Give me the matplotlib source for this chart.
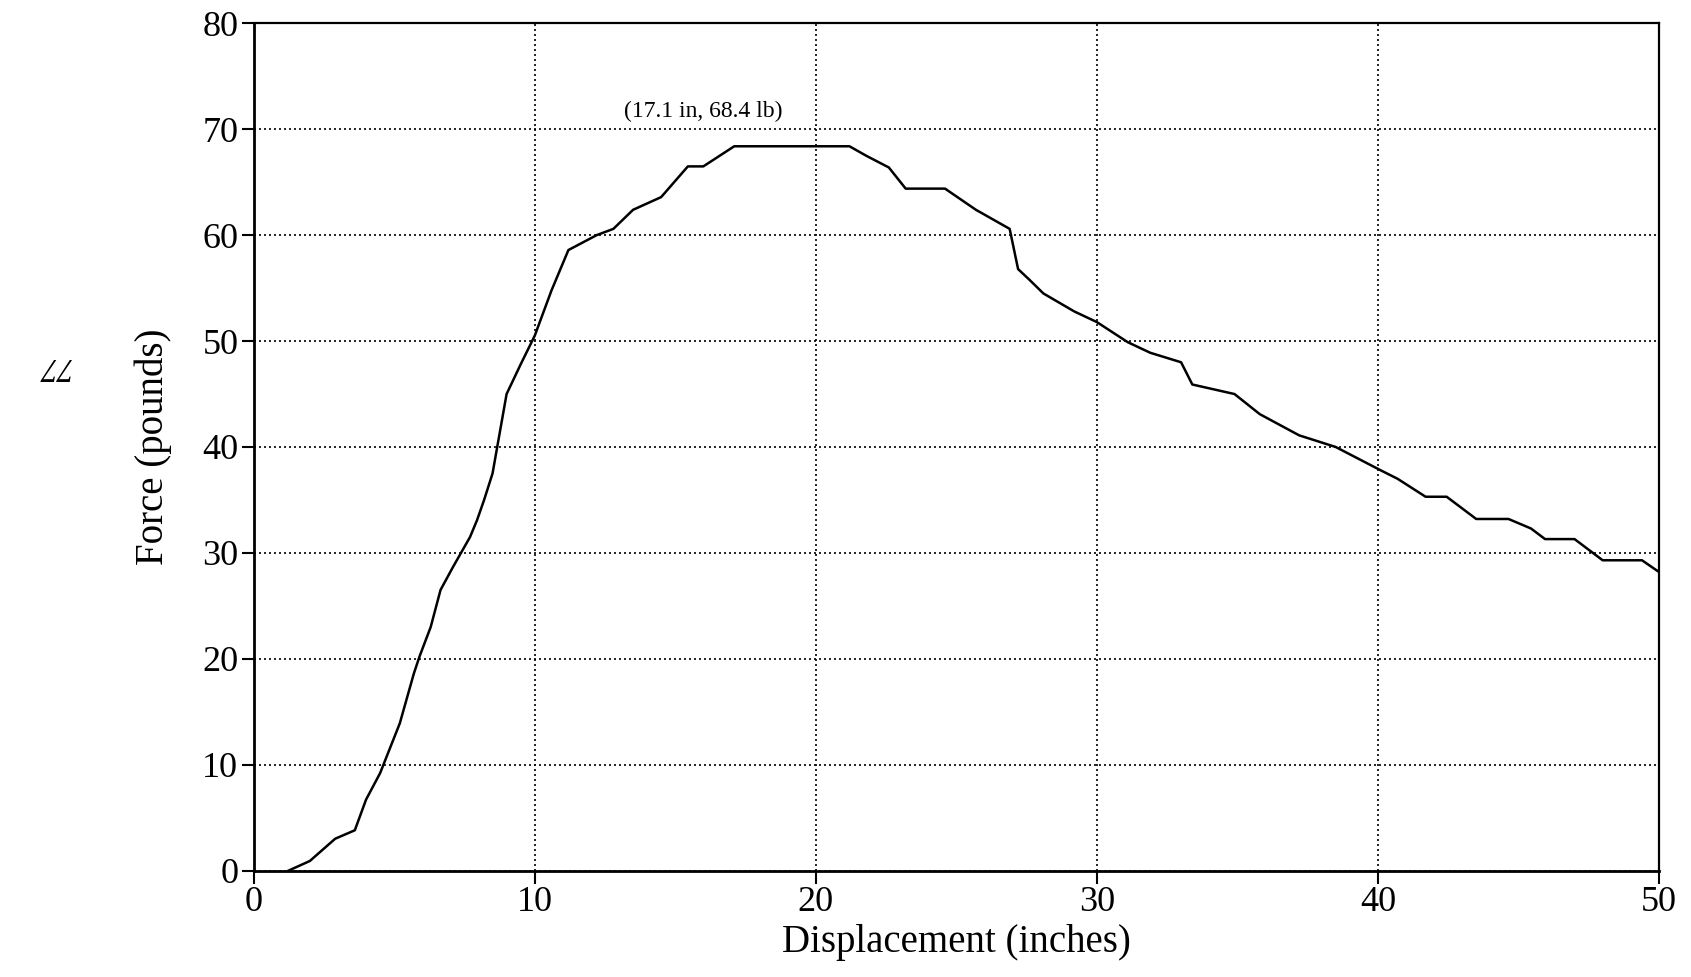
import matplotlib
matplotlib.use("Agg")
import matplotlib.pyplot as plt

plt.rcParams['font.family'] = ['Liberation Serif', 'DejaVu Serif']

# force vs displacement
disp = [1.25, 2.0, 2.9, 3.6, 4.0, 4.5, 5.2, 5.7, 5.9, 6.3, 6.65, 7.1, 7.7, 7.95,
        8.2, 8.5, 9.0, 9.5, 10.0, 10.6, 11.2, 12.2, 12.8, 13.5, 14.5, 15.45, 16.0,
        17.1, 21.2, 21.8, 22.6, 23.2, 24.6, 25.7, 26.9, 27.2, 27.6, 28.1, 29.2,
        30.0, 31.1, 31.9, 33.0, 33.4, 34.9, 35.8, 37.2, 38.5, 40.1, 40.7, 41.7,
        42.45, 43.5, 44.65, 45.45, 45.95, 47.0, 48.0, 49.4, 50.0]
force = [0, 0.9, 3.0, 3.8, 6.7, 9.2, 13.9, 18.6, 20.2, 23.0, 26.5, 28.7, 31.5, 33.1,
         35.0, 37.5, 45.0, 47.8, 50.5, 54.8, 58.6, 60.0, 60.6, 62.4, 63.6, 66.5, 66.5,
         68.4, 68.4, 67.5, 66.4, 64.4, 64.4, 62.4, 60.6, 56.8, 55.8, 54.5, 52.8,
         51.8, 49.9, 48.9, 48.0, 45.9, 45.0, 43.1, 41.1, 40.0, 37.8, 37.0, 35.3,
         35.3, 33.2, 33.2, 32.3, 31.3, 31.3, 29.3, 29.3, 28.2]

peak_label = "(17.1 in, 68.4 lb)"
xticks = [0, 10, 20, 30, 40, 50]
yticks = [0, 10, 20, 30, 40, 50, 60, 70, 80]

fig = plt.figure(figsize=(16.91, 9.77), dpi=100)
ax = fig.add_axes([0.150, 0.109, 0.831, 0.867])

ax.plot(disp, force, color='black', lw=1.8)

ax.set_xlim(0, 50)
ax.set_ylim(0, 80)
ax.set_xticks(xticks)
ax.set_yticks(yticks)
ax.tick_params(labelsize=26, length=9, width=1.5, direction='out', pad=2)
ax.grid(True, color='black', linestyle=(0, (1.2, 1.8)), lw=1.2)

for s in ['left', 'bottom']:
    ax.spines[s].set_linewidth(2.0)
for s in ['top', 'right']:
    ax.spines[s].set_linewidth(1.6)

ax.set_xlabel("Displacement (inches)", fontsize=28, labelpad=4)
ax.set_ylabel("Force (pounds)", fontsize=28, labelpad=22)

ax.text(16.0, 71.7, peak_label, fontsize=17, ha='center', va='center')

# page number, upside down in the scan
fig.text(0.032, 0.625, "77", fontsize=24, rotation=180, ha='center', va='center',
         style='italic')

fig.savefig("out.png", dpi=100)
